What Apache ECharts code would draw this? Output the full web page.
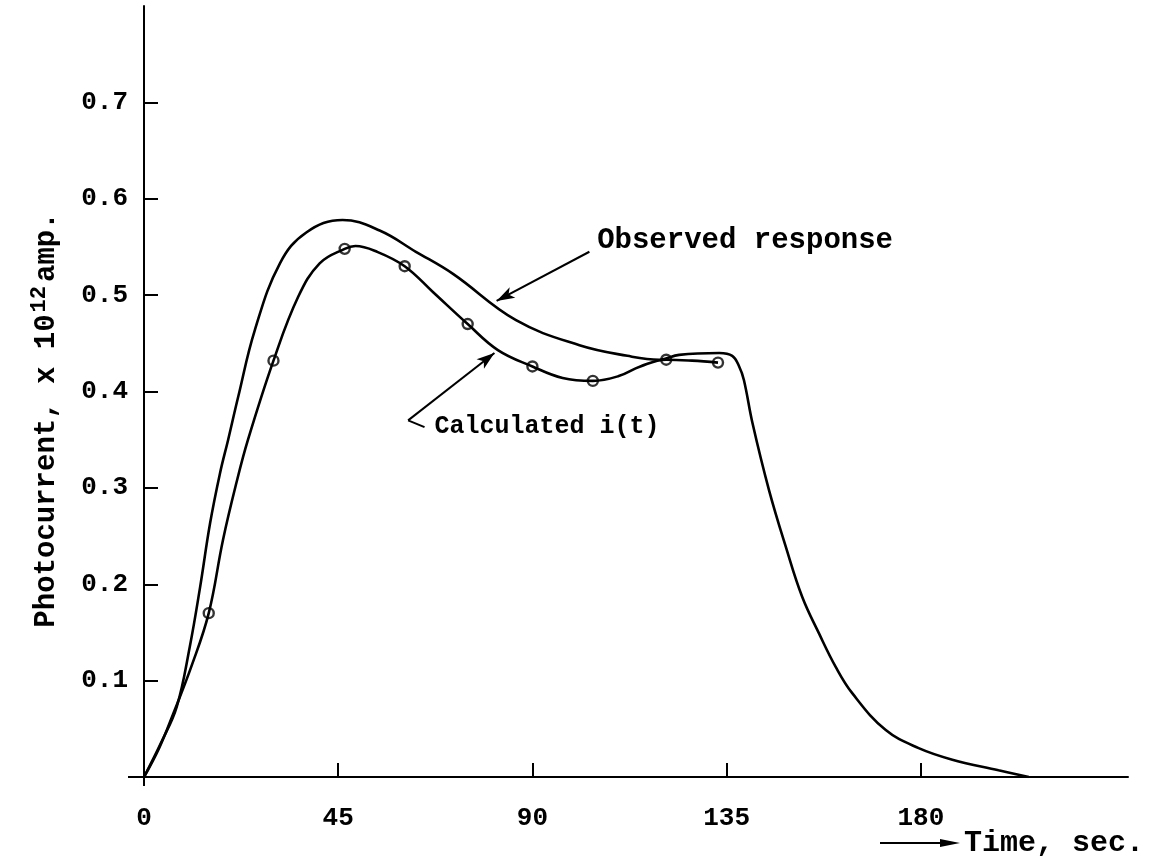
<!DOCTYPE html>
<html><head><meta charset="utf-8">
<script src="https://cdn.jsdelivr.net/npm/echarts@6/dist/echarts.min.js"></script>
<style>html,body{margin:0;padding:0;background:#fff}#c{width:1157px;height:862px}</style>
</head><body><div id="c"></div>
<script>
// ---- data (time in s, photocurrent in 1e-12 A) ----
const xTicks = [0, 45, 90, 135, 180];
const yTicks = [0.1, 0.2, 0.3, 0.4, 0.5, 0.6, 0.7];
const observedT = [0, 4, 7.6, 10.6, 13, 15.3, 17.6, 19.5, 21.8, 25.7, 31.5, 37.6, 46, 54.6, 63, 71.6, 86.2, 100.9, 112, 119.4, 124, 133.3, 136.3, 137.9, 139, 141, 144.8, 148.7, 152.5, 156.4, 160.3, 164.1, 171.8, 179.5, 187.3, 198, 205];
const observedV = [0, 0.036, 0.073, 0.135, 0.197, 0.263, 0.315, 0.35, 0.394, 0.464, 0.533, 0.565, 0.578, 0.567, 0.545, 0.522, 0.474, 0.448, 0.437, 0.433, 0.438, 0.440, 0.437, 0.426, 0.412, 0.367, 0.298, 0.239, 0.187, 0.149, 0.114, 0.087, 0.049, 0.030, 0.018, 0.007, 0];
const calcT = [0, 3.5, 6.8, 11, 15, 18.3, 21.4, 24.1, 30, 35.7, 40.7, 46.5, 49, 54, 60.4, 67, 75, 82, 90, 97, 104, 110, 115, 121, 127, 133];
const calcV = [0, 0.03, 0.066, 0.115, 0.17, 0.246, 0.305, 0.35, 0.432, 0.498, 0.533, 0.548, 0.551, 0.545, 0.530, 0.503, 0.470, 0.443, 0.426, 0.414, 0.411, 0.416, 0.426, 0.433, 0.432, 0.430];
const markerT = [15, 30, 46.5, 60.4, 75, 90, 104, 121, 133];
const markerV = [0.17, 0.432, 0.548, 0.530, 0.470, 0.426, 0.411, 0.433, 0.430];
// annotation anchors (data units)
const obsArrow = [[103.2, 0.545], [81.7, 0.494]];
const obsText = [105, 0.556];
const calcBracket = [[65.0, 0.363], [61.2, 0.370], [81.2, 0.440]];
const calcText = [67.3, 0.363];

const FONT = 'Liberation Mono';
const zip = (a, b) => a.map((v, i) => [v, b[i]]);

const chart = echarts.init(document.getElementById('c'), null, {renderer: 'canvas'});
const option = {
  animation: false,
  backgroundColor: '#fff',
  grid: {left: 144, right: 29, top: 6, bottom: 85, containLabel: false, outerBoundsMode: 'none'},
  xAxis: {
    type: 'value', min: 0, max: 228, interval: 45,
    axisLine: {lineStyle: {color: '#000', width: 2}},
    axisTick: {inside: true, length: 14, lineStyle: {color: '#000', width: 2}, customValues: xTicks},
    axisLabel: {customValues: xTicks, color: '#000', fontFamily: FONT, fontWeight: 'bold', fontSize: 26, margin: 28},
    splitLine: {show: false}
  },
  yAxis: {
    type: 'value', min: 0, max: 0.8, interval: 0.1,
    axisLine: {show: true, lineStyle: {color: '#000', width: 2}},
    axisTick: {show: true, inside: true, length: 14, lineStyle: {color: '#000', width: 2}, customValues: yTicks},
    axisLabel: {customValues: yTicks, color: '#000', fontFamily: FONT, fontWeight: 'bold', fontSize: 26, margin: 16,
      formatter: v => v.toFixed(1)},
    splitLine: {show: false}
  },
  series: [
    {
      name: 'Observed response', type: 'line', data: zip(observedT, observedV),
      smooth: 0.4, showSymbol: false, lineStyle: {color: '#000', width: 2.6},
      markLine: {
        silent: true, animation: false,
        lineStyle: {color: '#000', width: 2, type: 'solid'},
        label: {show: false}, symbolSize: [9, 18],
        data: [
          [{coord: obsArrow[0], symbol: 'none'}, {coord: obsArrow[1], symbol: 'arrow'}],
          [{coord: calcBracket[0], symbol: 'none'}, {coord: calcBracket[1], symbol: 'none'}],
          [{coord: calcBracket[1], symbol: 'none'}, {coord: calcBracket[2], symbol: 'arrow'}]
        ]
      }
    },
    {
      name: 'Calculated i(t)', type: 'line', data: zip(calcT, calcV),
      smooth: 0.4, showSymbol: false, lineStyle: {color: '#000', width: 2.6}
    },
    {
      name: 'Calculated points', type: 'scatter', data: zip(markerT, markerV),
      symbol: 'circle', symbolSize: 10,
      itemStyle: {color: '#fff', borderColor: '#000', borderWidth: 2.4}
    }
  ]
};
chart.setOption(option);

const p1 = chart.convertToPixel({gridIndex: 0}, obsText);
const p2 = chart.convertToPixel({gridIndex: 0}, calcText);
const origin = chart.convertToPixel({gridIndex: 0}, [0, 0]);
const txt = {fontFamily: FONT, fontWeight: 'bold', fill: '#000'};
const yBelow = origin[1] + 66;
chart.setOption({
  graphic: [
    {type: 'text', x: p1[0], y: p1[1], style: Object.assign({text: 'Observed response', fontSize: 29, verticalAlign: 'middle', align: 'left'}, txt)},
    {type: 'text', x: p2[0], y: p2[1], style: Object.assign({text: 'Calculated i(t)', fontSize: 25, verticalAlign: 'middle', align: 'left'}, txt)},
    // x axis name with arrow
    {type: 'line', shape: {x1: 880, y1: yBelow, x2: 948, y2: yBelow}, style: {stroke: '#000', lineWidth: 2}},
    {type: 'polygon', shape: {points: [[960, yBelow], [940, yBelow - 4], [940, yBelow + 4]]}, style: {fill: '#000'}},
    {type: 'text', x: 964, y: yBelow, style: Object.assign({text: 'Time, sec.', fontSize: 30, verticalAlign: 'middle', align: 'left'}, txt)},
    // axis overhangs
    {type: 'line', shape: {x1: origin[0] - 16, y1: origin[1], x2: origin[0], y2: origin[1]}, style: {stroke: '#000', lineWidth: 2}},
    {type: 'line', shape: {x1: origin[0], y1: origin[1], x2: origin[0], y2: origin[1] + 9}, style: {stroke: '#000', lineWidth: 2}},
    // y axis name, rotated
    {type: 'text', x: 47, y: 420, rotation: Math.PI / 2,
      style: {
        text: 'Photocurrent, x 10{sup|12}amp.', align: 'center', verticalAlign: 'middle',
        fontFamily: FONT, fontWeight: 'bold', fontSize: 29, fill: '#000',
        rich: {sup: {fontFamily: FONT, fontWeight: 'bold', fontSize: 22, verticalAlign: 'top', padding: [0, 4, 16, 2], fill: '#000'}}
      }}
  ]
});
</script></body></html>
